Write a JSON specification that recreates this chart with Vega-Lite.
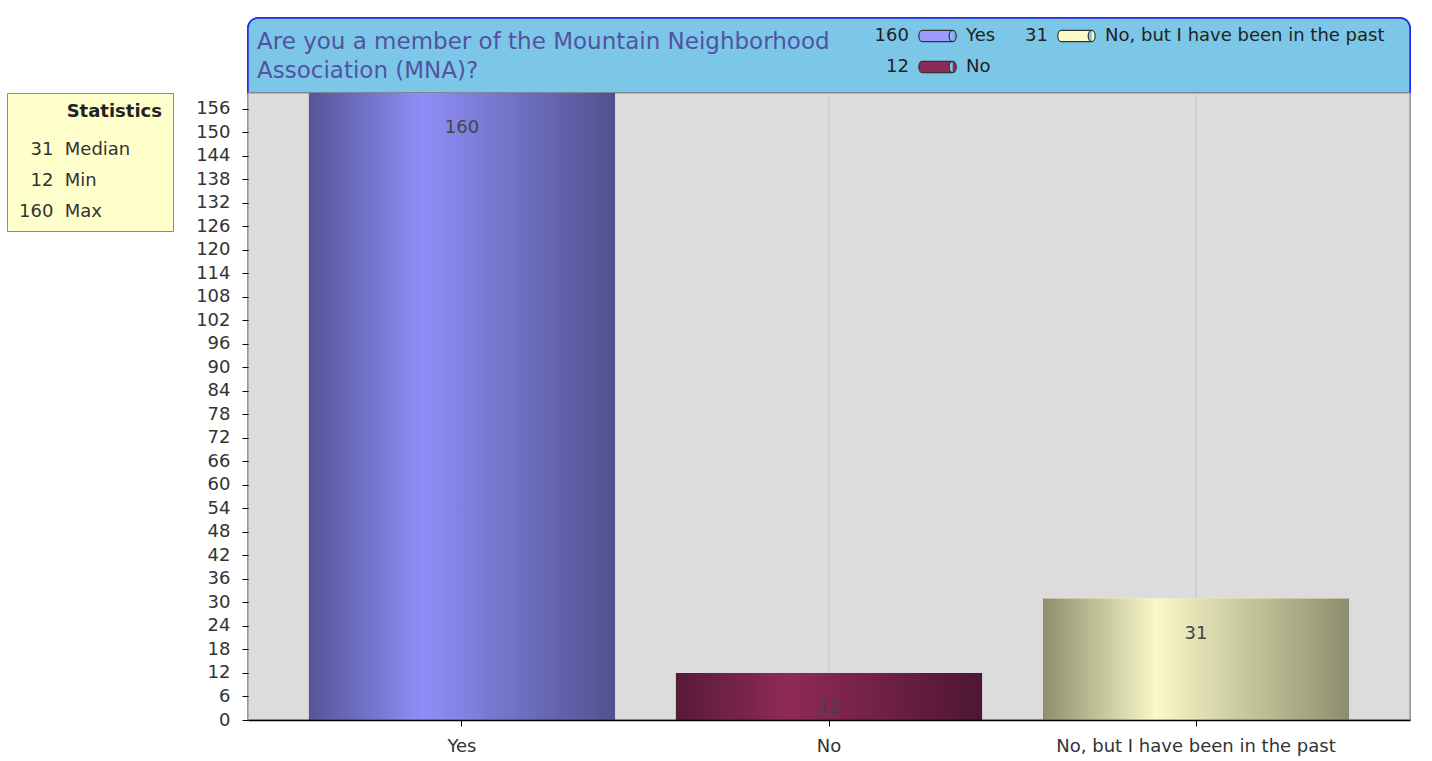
{
  "$schema": "https://vega.github.io/schema/vega-lite/v6.json",
  "width": 1162,
  "height": 702,
  "autosize": {"type": "none"},
  "padding": {"left": 248, "top": 18, "right": 22, "bottom": 41},
  "background": "white",
  "config": {"view": {"stroke": null}, "font": "DejaVu Sans"},
  "title": {
    "text": ["Are you a member of the Mountain Neighborhood", "Association (MNA)?"],
    "anchor": "start",
    "frame": "group",
    "orient": "top",
    "offset": -66,
    "dx": 9,
    "font": "DejaVu Sans",
    "fontSize": 23,
    "fontWeight": "normal",
    "color": "#5252a3",
    "lineHeight": 29
  },
  "datasets": {
    "answers": [
      {"answer": "Yes", "count": 160},
      {"answer": "No", "count": 12},
      {"answer": "No, but I have been in the past", "count": 31}
    ],
    "stats": [
      {"stat": "Median", "value": 31},
      {"stat": "Min", "value": 12},
      {"stat": "Max", "value": 160}
    ]
  },
  "layer": [
    {
      "data": {"name": "answers"},
      "mark": {"type": "rect", "fill": "#7cc7e8", "stroke": "#2a2af0", "strokeWidth": 1.5, "cornerRadiusTopLeft": 10, "cornerRadiusTopRight": 10},
      "encoding": {
        "y": {"datum": 179.138, "type": "quantitative"},
        "y2": {"datum": 160}
      }
    },
    {
      "data": {"name": "answers"},
      "mark": {"type": "rect", "fill": "#dcdcdc", "stroke": "#8a8a8a", "strokeWidth": 1},
      "encoding": {
        "y": {"datum": 0, "type": "quantitative"},
        "y2": {"datum": 160}
      }
    },
    {
      "data": {"name": "answers"},
      "mark": {"type": "rule", "color": "#c6c6c6", "strokeWidth": 1},
      "encoding": {
        "x": {"field": "answer", "type": "nominal", "sort": ["Yes", "No", "No, but I have been in the past"]},
        "y": {"datum": 0, "type": "quantitative"},
        "y2": {"datum": 160}
      }
    },
    {
      "data": {"name": "answers"},
      "mark": {"type": "bar"},
      "encoding": {
        "x": {
          "field": "answer", "type": "nominal",
          "sort": ["Yes", "No", "No, but I have been in the past"],
          "scale": {"paddingInner": 0.166, "paddingOuter": 0.166},
          "axis": {
            "title": null, "labelAngle": 0, "labelAlign": "center", "labelFont": "DejaVu Sans", "labelFontSize": 18,
            "labelColor": "#333333", "labelPadding": 20, "labelLimit": 0,
            "domainColor": "#000000", "domainWidth": 1.5, "tickColor": "#000000", "tickSize": 6,
            "grid": false, "zindex": 1
          }
        },
        "y": {
          "field": "count", "type": "quantitative",
          "scale": {"domain": [0, 179.138], "nice": false},
          "axis": {
            "title": null, "grid": false, "domain": false, "tickCount": 40,
            "values": [0, 6, 12, 18, 24, 30, 36, 42, 48, 54, 60, 66, 72, 78, 84, 90, 96, 102, 108, 114, 120, 126, 132, 138, 144, 150, 156],
            "labelFont": "DejaVu Sans", "labelFontSize": 18, "labelColor": "#333333",
            "labelPadding": 12, "labelOverlap": false, "tickColor": "#000000", "tickSize": 6, "zindex": 1
          }
        },
        "color": {
          "field": "answer", "type": "nominal",
          "scale": {
            "domain": ["Yes", "No", "No, but I have been in the past"],
            "range": ["#9a9aff", "#8d2b58", "#fbfbc9"]
          },
          "legend": {
            "orient": "none", "legendX": 608.5, "legendY": 9,
            "columns": 2, "title": null, "padding": 0,
            "columnPadding": -6.5, "rowPadding": 13,
            "symbolType": "M56.8,-5.7 L87.2,-5.7 A3.5,5.7 0 0 1 87.2,5.7 L56.8,5.7 A3.5,5.7 0 0 1 56.8,-5.7 Z M87.2,-5.7 A3.5,5.7 0 0 0 87.2,5.7",
            "symbolSize": 4, "symbolStrokeColor": "#333333", "symbolStrokeWidth": 1.2,
            "labelFont": "DejaVu Sans", "labelFontSize": 18, "labelColor": "#222222",
            "labelOffset": 0, "labelLimit": 0,
            "labelExpr": "datum.label == 'Yes' ? '160\u00a0\u00a0\u00a0\u00a0\u00a0\u00a0\u00a0\u00a0\u00a0\u00a0Yes' : datum.label == 'No' ? '\u200b\u00a0\u00a012\u00a0\u00a0\u00a0\u00a0\u00a0\u00a0\u00a0\u00a0\u00a0\u00a0No' : '\u200b\u00a0\u00a031\u00a0\u00a0\u00a0\u00a0\u00a0\u00a0\u00a0\u00a0\u00a0\u00a0No, but I have been in the past'",
            "encode": {"symbols": {"update": {"stroke": {"value": "#333333"}, "strokeWidth": {"value": 1.2}}}}
          }
        }
      }
    },
    {
      "data": {"name": "answers"},
      "transform": [{"filter": {"field": "answer", "equal": "Yes"}}],
      "mark": {"type": "bar", "fill": {"gradient": "linear", "x1": 0, "y1": 0, "x2": 1, "y2": 0, "stops": [
        {"offset": 0, "color": "#555596"}, {"offset": 0.37, "color": "#8e8ef8"}, {"offset": 1, "color": "#51518e"}]}},
      "encoding": {
        "x": {"field": "answer", "type": "nominal", "sort": ["Yes", "No", "No, but I have been in the past"]},
        "y": {"field": "count", "type": "quantitative"}
      }
    },
    {
      "data": {"name": "answers"},
      "transform": [{"filter": {"field": "answer", "equal": "No"}}],
      "mark": {"type": "bar", "fill": {"gradient": "linear", "x1": 0, "y1": 0, "x2": 1, "y2": 0, "stops": [
        {"offset": 0, "color": "#581a38"}, {"offset": 0.37, "color": "#8f2a58"}, {"offset": 1, "color": "#4e1632"}]}},
      "encoding": {
        "x": {"field": "answer", "type": "nominal", "sort": ["Yes", "No", "No, but I have been in the past"]},
        "y": {"field": "count", "type": "quantitative"}
      }
    },
    {
      "data": {"name": "answers"},
      "transform": [{"filter": {"field": "answer", "equal": "No, but I have been in the past"}}],
      "mark": {"type": "bar", "fill": {"gradient": "linear", "x1": 0, "y1": 0, "x2": 1, "y2": 0, "stops": [
        {"offset": 0, "color": "#8e8e6e"}, {"offset": 0.37, "color": "#f8f8c8"}, {"offset": 1, "color": "#8e8e6e"}]}},
      "encoding": {
        "x": {"field": "answer", "type": "nominal", "sort": ["Yes", "No", "No, but I have been in the past"]},
        "y": {"field": "count", "type": "quantitative"}
      }
    },
    {
      "data": {"name": "answers"},
      "mark": {"type": "text", "dy": 35, "baseline": "middle", "font": "DejaVu Sans", "fontSize": 18, "color": "#444444"},
      "encoding": {
        "x": {"field": "answer", "type": "nominal", "sort": ["Yes", "No", "No, but I have been in the past"]},
        "y": {"field": "count", "type": "quantitative"},
        "text": {"field": "count", "type": "quantitative"}
      }
    },
    {
      "data": {"name": "stats"},
      "mark": {"type": "point", "opacity": 0},
      "encoding": {
        "shape": {
          "field": "stat", "type": "nominal",
          "scale": {"domain": ["Median", "Min", "Max"]},
          "legend": {
            "orient": "none", "legendX": -241, "legendY": 75,
            "title": "Statistics", "titleFont": "DejaVu Sans", "titleFontSize": 18, "titleFontWeight": "bold",
            "titleColor": "#222222", "titleAnchor": "end", "titlePadding": 20,
            "fillColor": "#ffffcc", "strokeColor": "#8a8a8a", "padding": 10,
            "labelFont": "DejaVu Sans", "labelFontSize": 18, "labelColor": "#333333",
            "labelOffset": -16, "rowPadding": 13, "labelLimit": 0,
            "symbolSize": 0, "symbolOpacity": 0, "symbolStrokeWidth": 0,
            "labelExpr": "datum.label == 'Median' ? '\u200b\u00a0\u00a031\u00a0\u00a0Median\u00a0\u00a0\u00a0\u00a0\u00a0\u2009\u200b' : datum.label == 'Min' ? '\u200b\u00a0\u00a012\u00a0\u00a0Min' : '160\u00a0\u00a0Max'"
          }
        }
      }
    }
  ]
}
